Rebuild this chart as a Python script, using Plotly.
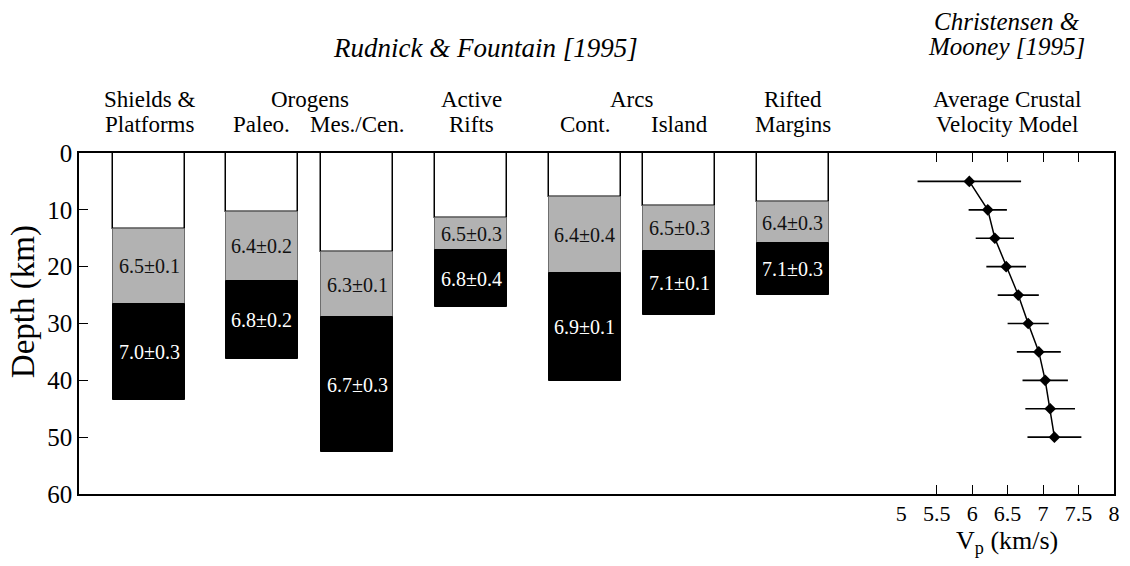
import plotly.graph_objects as go

# ---- crustal columns (Rudnick & Fountain, 1995) ----
columns = ["Shields & Platforms", "Paleo. Orogens", "Mes./Cen. Orogens", "Active Rifts",
           "Cont. Arcs", "Island Arcs", "Rifted Margins"]
middle_top = [13.3, 10.3, 17.5, 11.5, 7.7, 9.3, 8.7]      # km, top of middle crust
lower_top = [26.6, 22.5, 28.9, 17.1, 21.2, 17.2, 15.8]    # km, top of lower crust
moho = [43.5, 36.3, 52.6, 27.1, 40.1, 28.5, 25.0]         # km, crust base
middle_vp = [6.5, 6.4, 6.3, 6.5, 6.4, 6.5, 6.4]
middle_sd = [0.1, 0.2, 0.1, 0.3, 0.4, 0.3, 0.3]
lower_vp = [7.0, 6.8, 6.7, 6.8, 6.9, 7.1, 7.1]
lower_sd = [0.3, 0.2, 0.3, 0.4, 0.1, 0.1, 0.3]

# ---- average crustal velocity model (Christensen & Mooney, 1995) ----
cm_depth = [5, 10, 15, 20, 25, 30, 35, 40, 45, 50]
cm_vp = [5.96, 6.22, 6.32, 6.48, 6.65, 6.79, 6.94, 7.03, 7.10, 7.16]
cm_sd = [0.73, 0.27, 0.27, 0.28, 0.29, 0.29, 0.31, 0.32, 0.35, 0.38]

depth_ticks = [0, 10, 20, 30, 40, 50, 60]
vp_ticks = [5, 5.5, 6, 6.5, 7, 7.5, 8]
vp_ticktext = ["5", "5.5", "6", "6.5", "7", "7.5", "8"]

# layout of the columns along the (unlabelled) lower x axis
col_x = [7.05, 18.39, 27.99, 39.44, 50.85, 60.39, 71.8]
col_w = 7.25
X_RANGE = [0, 104.1]

SERIF = "Liberation Serif, Times New Roman, serif"
GREY = "#b2b2b2"

fig = go.Figure()

upper_h = [m for m in middle_top]
middle_h = [l - m for l, m in zip(lower_top, middle_top)]
lower_h = [b - l for b, l in zip(moho, lower_top)]

fig.add_trace(go.Bar(x=col_x, y=upper_h, base=[0] * len(col_x), width=col_w,
                     marker=dict(color="white", line=dict(color="black", width=1.5)),
                     xaxis="x", yaxis="y", hoverinfo="skip", showlegend=False))
fig.add_trace(go.Bar(x=col_x, y=middle_h, base=middle_top, width=col_w,
                     marker=dict(color=GREY, line=dict(color="#6e6e6e", width=1)),
                     xaxis="x", yaxis="y", hoverinfo="skip", showlegend=False))
fig.add_trace(go.Bar(x=col_x, y=lower_h, base=lower_top, width=col_w,
                     marker=dict(color="black", line=dict(color="black", width=1)),
                     xaxis="x", yaxis="y", hoverinfo="skip", showlegend=False))

fig.add_trace(go.Scatter(
    x=cm_vp, y=cm_depth, xaxis="x2", yaxis="y", mode="lines+markers",
    line=dict(color="black", width=1.5),
    marker=dict(symbol="diamond", size=9, color="black"),
    error_x=dict(type="data", array=cm_sd, color="black", thickness=1.7, width=0),
    hoverinfo="skip", showlegend=False))


def label(x, y, text, size, xref="x", yref="paper", color="black", **kw):
    return dict(x=x, y=y, xref=xref, yref=yref, text=text, showarrow=False,
                xanchor="center", yanchor="middle",
                font=dict(family=SERIF, size=size, color=color), **kw)


annotations = []
for xc, mt, lt, mb, mv, ms, lv, ls in zip(col_x, middle_top, lower_top, moho,
                                          middle_vp, middle_sd, lower_vp, lower_sd):
    annotations.append(label(xc, (mt + lt) / 2, f"{mv:.1f}±{ms:.1f}", 20,
                             yref="y", color="#111111"))
    annotations.append(label(xc, (lt + mb) / 2, f"{lv:.1f}±{ls:.1f}", 20,
                             yref="y", color="white"))

ROW1, ROW2 = 1.158, 1.083
headers = [
    (col_x[0], ROW1, "Shields &"), (col_x[0], ROW2, "Platforms"),
    ((col_x[1] + col_x[2]) / 2, ROW1, "Orogens"),
    (col_x[1], ROW2, "Paleo."), (col_x[2], ROW2, "Mes./Cen."),
    (col_x[3], ROW1, "Active"), (col_x[3], ROW2, "Rifts"),
    ((col_x[4] + col_x[5]) / 2, ROW1, "Arcs"),
    (col_x[4], ROW2, "Cont."), (col_x[5], ROW2, "Island"),
    (col_x[6], ROW1, "Rifted"), (col_x[6], ROW2, "Margins"),
]
for hx, hy, txt in headers:
    annotations.append(label(hx, hy, txt, 23))

annotations += [
    label(6.49, ROW1, "Average Crustal", 23, xref="x2"),
    label(6.49, ROW2, "Velocity Model", 23, xref="x2"),
    label(40.9, 1.307, "<i>Rudnick & Fountain [1995]</i>", 27),
    label(6.49, 1.387, "<i>Christensen &</i>", 25, xref="x2"),
    label(6.49, 1.311, "<i>Mooney [1995]</i>", 25, xref="x2"),
    label(-0.054, 0.563, "Depth (km)", 33, xref="paper", textangle=-90),
    label(6.49, -0.142, "V<sub>p</sub> (km/s)", 26, xref="x2"),
]

fig.update_layout(
    width=1130, height=566,
    margin=dict(l=79, r=10, t=153, b=72),
    paper_bgcolor="white", plot_bgcolor="white",
    barmode="overlay", bargap=0,
    font=dict(family=SERIF, color="black"),
    annotations=annotations,
    xaxis=dict(domain=[0, 1], range=X_RANGE, showgrid=False, zeroline=False,
               showticklabels=False, ticks="", showline=True, mirror=True,
               linecolor="black", linewidth=1.5, fixedrange=True),
    xaxis2=dict(domain=[(906 - 79) / 1041, 1], range=[5, 8], anchor="y",
                showgrid=False, zeroline=False, showline=False,
                tickvals=vp_ticks, ticktext=vp_ticktext, ticks="inside", ticklen=9,
                tickwidth=1.3, tickcolor="black", mirror="ticks",
                ticklabelstandoff=4,
                tickfont=dict(family=SERIF, size=22, color="black")),
    yaxis=dict(range=[60, 0], tickvals=depth_ticks, ticks="inside", ticklen=9,
               tickwidth=1.3, tickcolor="black", mirror="ticks", showline=True,
               linecolor="black", linewidth=1.5, showgrid=False, zeroline=False,
               tickfont=dict(family=SERIF, size=25, color="black")),
)

fig.write_html("out.html")
